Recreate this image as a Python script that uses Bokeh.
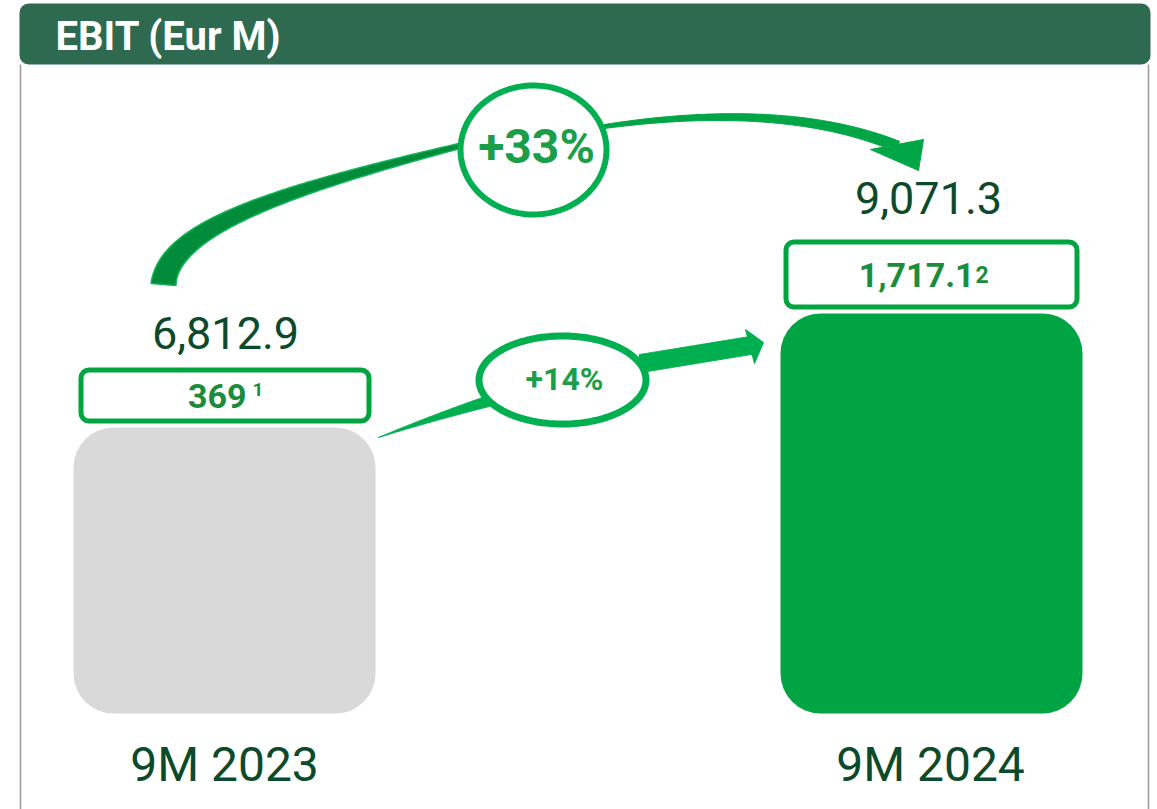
import numpy as np
from math import comb
from bokeh.plotting import figure
from bokeh.models import Range1d, ColumnDataSource
from bokeh.embed import file_html
from bokeh.resources import INLINE
from bokeh.core.properties import value

# ---------------- data ----------------
title = "EBIT (Eur M)"
periods = ["9M 2023", "9M 2024"]
ebit = [6812.9, 9071.3]
ebit_labels = ["6,812.9", "9,071.3"]
sub_values = ["369", "1,717.1"]
sub_notes = ["1", "2"]
growth_total = "+33%"
growth_sub = "+14%"

# ---------------- layout ----------------
W, H = 1157, 809
UNIT_PX = 0.050478          # screen pixels per EUR M
Y0 = -754.8                 # value at bottom edge of plot
BASE = 1147.0               # bar baseline (value units)
BAR_X = [224, 931]
BAR_W = 302
FONT = "Roboto"
TXT_SHIFT = 0.40            # empirical baseline correction (fraction of font size)

DARK = "#0c4a2c"
GREEN = "#00b050"
BAR_GREEN = "#00a443"
BOX_GREEN = "#00a540"
TXT_GREEN = "#1a8d3d"


def Y(ry):
    """page pixel row -> data y"""
    return Y0 + (H - np.asarray(ry, dtype=float)) / UNIT_PX


def TY(ry, size):
    """baseline row -> data y for text of given px size"""
    return list(Y(np.asarray(ry, dtype=float) - TXT_SHIFT * np.asarray(size, dtype=float)).ravel())


def bezier(P, n=90):
    P = np.asarray(P, dtype=float)
    d = len(P) - 1
    t = np.linspace(0, 1, n)
    pts = np.zeros((n, 2))
    der = np.zeros((n, 2))
    for i in range(d + 1):
        b = comb(d, i) * t**i * (1 - t) ** (d - i)
        pts += np.outer(b, P[i])
    for i in range(d):
        b = comb(d - 1, i) * t**i * (1 - t) ** (d - 1 - i)
        der += np.outer(b, d * (P[i + 1] - P[i]))
    return t, pts, der


def ribbon(P, w0, w1, n=90):
    t, pts, der = bezier(P, n)
    nrm = np.stack([-der[:, 1], der[:, 0]], axis=1)
    nrm /= np.linalg.norm(nrm, axis=1)[:, None]
    w = (w0 + (w1 - w0) * t)[:, None] / 2
    a = pts + nrm * w
    b = pts - nrm * w
    poly = np.vstack([a, b[::-1]])
    return list(poly[:, 0]), list(Y(poly[:, 1]))


def ellipse_poly(cx, cy, rx, ry, n=160):
    th = np.linspace(0, 2 * np.pi, n)
    return list(cx + rx * np.cos(th)), list(Y(cy + ry * np.sin(th)))


p = figure(width=W, height=H, x_range=Range1d(0, W),
           y_range=Range1d(Y0, Y0 + H / UNIT_PX),
           output_backend="svg", toolbar_location=None,
           x_axis_location=None, y_axis_location=None,
           min_border=0, outline_line_color=None,
           background_fill_color="white", border_fill_color="white")
p.grid.visible = False

# header band
p.quad(left=19, right=1150, top=Y(3), bottom=Y(64), fill_color="#2e6a50",
       line_color=None, border_radius=9)
p.text(x=[55], y=TY([52], 40), text=[title], text_font=value(FONT), text_font_style="bold",
       text_font_size="40px", text_color="white", text_align="left",
       text_baseline="alphabetic")

# panel border
p.line([20, 20], [Y(64), Y(830)], line_color="#9a9a9a", line_width=1.5)
p.line([1148, 1148], [Y(64), Y(830)], line_color="#9a9a9a", line_width=1.5)

# bars
src = ColumnDataSource(dict(x=BAR_X, top=ebit, color=["#d9d9d9", BAR_GREEN]))
p.vbar(x="x", top="top", bottom=BASE, width=BAR_W, fill_color="color",
       line_color=None, border_radius=40, source=src)

# value labels
p.text(x=[225, 928], y=TY([350, 215], 45), text=ebit_labels, text_font=value(FONT),
       text_font_size="45px", text_color=DARK, text_align="center",
       text_baseline="alphabetic")

# category labels
p.text(x=[224, 930], y=TY([783, 783], 48), text=periods, text_font=value(FONT),
       text_font_size="48px", text_color=DARK, text_align="center",
       text_baseline="alphabetic")

# boxes with sub values
p.quad(left=[80.5, 785.5], right=[368.5, 1076.5], top=list(Y([369.5, 241.5])),
       bottom=list(Y([420.5, 306.5])), fill_color="white", line_color=BOX_GREEN,
       line_width=5, border_radius=8)
p.text(x=[246, 974], y=TY([409, 288], 34), text=sub_values, text_font=value(FONT),
       text_font_style="bold", text_font_size="34px", text_color=TXT_GREEN,
       text_align="right", text_baseline="alphabetic")
p.text(x=[252, 975], y=TY([397, 283], [19, 23]), text=sub_notes, text_font=value(FONT),
       text_font_style="bold", text_font_size=["19px", "23px"], text_color=TXT_GREEN,
       text_align="left", text_baseline="alphabetic")

# +33% arrow (big arc)
xs, ys = ribbon([(163, 284), (168, 228), (280, 190), (465, 144)], 25, 5)
p.patch(xs, ys, fill_color="#008c3a", line_color="#0fb455", line_width=1.5)
xs, ys = ribbon([(604, 126), (700, 112), (810, 110), (897, 146)], 4, 11)
p.patch(xs, ys, fill_color="#00a646", line_color="#00a646", line_width=1)
p.patch([870, 923, 918], list(Y([149, 139, 170])), fill_color="#00a646",
        line_color="#00a646", line_width=1)

# +14% arrow
xs, ys = ribbon([(378, 437), (430, 418), (490, 400)], 0, 11)
p.patch(xs, ys, fill_color=GREEN, line_color=GREEN, line_width=1)
xs, ys = ribbon([(640, 363), (750, 345)], 18, 18)
p.patch(xs, ys, fill_color=GREEN, line_color=GREEN, line_width=1)
p.patch([745, 763, 754], list(Y([329, 342, 363])), fill_color=GREEN,
        line_color=GREEN, line_width=1)

# ellipses
xs, ys = ellipse_poly(533, 149.5, 73, 64.5)
p.patch(xs, ys, fill_color="white", line_color=GREEN, line_width=6)
xs, ys = ellipse_poly(562, 379.5, 83.5, 44)
p.patch(xs, ys, fill_color="white", line_color=GREEN, line_width=7)

p.text(x=[536], y=TY([165], 48), text=[growth_total], text_font=value(FONT),
       text_font_style="bold", text_font_size="48px", text_color="#1a9e48",
       text_align="center", text_baseline="alphabetic")
p.text(x=[564], y=TY([391], 32), text=[growth_sub], text_font=value(FONT),
       text_font_style="bold", text_font_size="32px", text_color="#1a9e48",
       text_align="center", text_baseline="alphabetic")

open("out.html", "w").write(file_html(p, INLINE))
